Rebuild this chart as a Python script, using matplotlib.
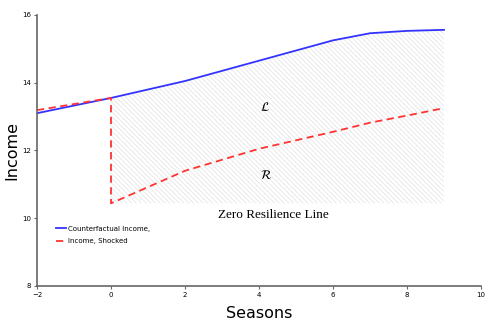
import numpy as np
import matplotlib.pyplot as plt

plt.rcParams['hatch.linewidth'] = 0.6

# counterfactual path and shocked path
x_cf = [-2, 0, 2, 4, 6, 7, 8, 9]
y_cf = [13.1, 13.55, 14.05, 14.65, 15.25, 15.46, 15.53, 15.56]

x_sh = [-2, 0, 0, 2, 4, 6, 7, 8, 9]
y_sh = [13.19, 13.55, 10.44, 11.4, 12.05, 12.55, 12.82, 13.03, 13.25]

zero_line = 10.44

fig = plt.figure(figsize=(5, 3.25), dpi=100)
ax = fig.add_axes([0.074, 0.12, 0.888, 0.834])

# hatched area between counterfactual income and the zero resilience line
xf = np.array(x_cf[1:])
yf = np.array(y_cf[1:])
ax.fill_between(xf, zero_line, yf, facecolor='none', edgecolor='#e6e6e6',
                hatch='\\' * 7, linewidth=0)

ax.plot(x_cf, y_cf, color='#3333ff', lw=1.3, label='Counterfactual Income,')
ax.plot(x_sh, y_sh, color='#ff3333', lw=1.3, ls=(0, (4, 2.5)), label='Income, Shocked')

ax.text(4.16, 13.28, r'$\mathcal{L}$', fontsize=9, ha='center', va='center')
ax.text(4.19, 11.27, r'$\mathcal{R}$', fontsize=9, ha='center', va='center')
ax.text(4.39, 10.09, 'Zero Resilience Line', fontsize=9.5, family='Liberation Serif',
        ha='center', va='center')

ax.set_xlim(-2, 10)
ax.set_ylim(8, 16)
ax.set_xticks([-2, 0, 2, 4, 6, 8, 10])
ax.set_yticks([8, 10, 12, 14, 16])
ax.tick_params(labelsize=5, length=2.5, width=0.8, color='#666666', pad=1.5)
for s in ['top', 'right']:
    ax.spines[s].set_visible(False)
for s in ['left', 'bottom']:
    ax.spines[s].set_color('#666666')
    ax.spines[s].set_linewidth(1.2)

ax.set_xlabel('Seasons', fontsize=11.5, labelpad=6)
ax.set_ylabel('Income', fontsize=11.5, labelpad=2)

ax.legend(loc='upper left', bbox_to_anchor=(-1.5, 9.78), bbox_transform=ax.transData,
          frameon=False, fontsize=5, handlelength=1.45, handletextpad=0.3,
          labelspacing=0.9, borderpad=0, borderaxespad=0)

plt.savefig('out.png', dpi=100)
